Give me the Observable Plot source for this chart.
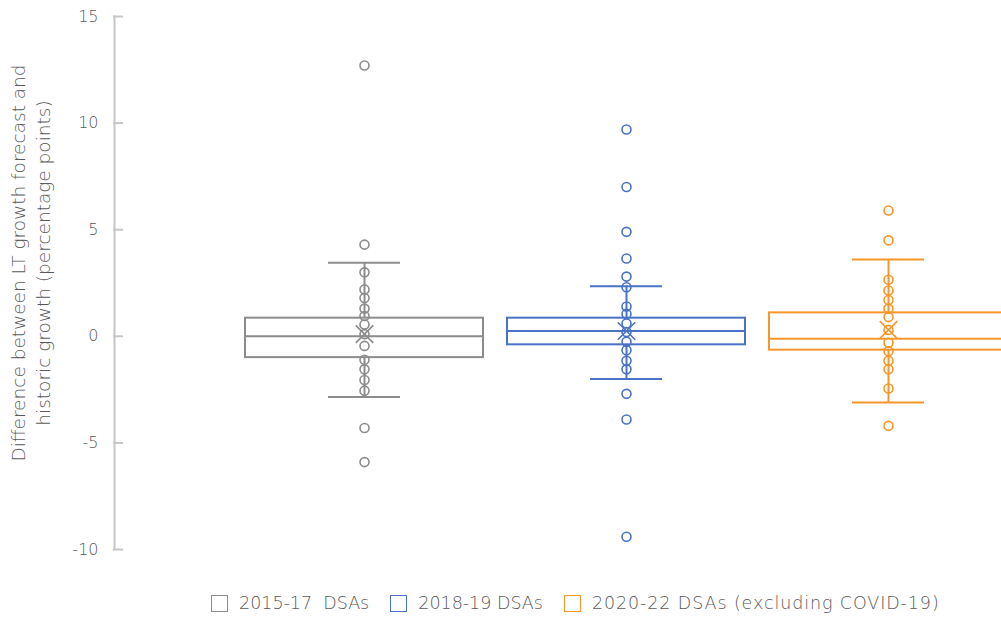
<!DOCTYPE html>
<html>
<head>
<meta charset="utf-8">
<script src="https://cdn.jsdelivr.net/npm/d3@7"></script>
<script src="https://cdn.jsdelivr.net/npm/@observablehq/plot@0.6"></script>
<style>
  html, body { margin: 0; padding: 0; background: #fff; }
  body { width: 1001px; height: 619px; overflow: hidden; font-family: "DejaVu Sans", sans-serif; font-weight: 200; color: #595959; }
  #chart { position: relative; }
  .legend { position: absolute; left: 211px; top: 593px; display: flex; align-items: center; font-size: 17.5px; white-space: pre; }
  .legend .item { display: flex; align-items: center; margin-right: 21px; }
  .legend .item:last-child { letter-spacing: 0.9px; }
  .legend .sw { width: 17px; height: 17px; box-sizing: border-box; border: 1.5px solid; margin-right: 11px; }
</style>
</head>
<body>
<div id="chart"></div>
<script>
// Series shown as three box-and-whisker groups
const series = ["2015-17  DSAs", "2018-19 DSAs", "2020-22 DSAs (excluding COVID-19)"];
const colors = ["#8c8c8c", "#4a72c4", "#f7962b"];

// Individual observations (percentage points)
const points2015 = [12.7, 4.3, 3.0, 2.2, 1.8, 1.3, 0.95, 0.55, 0.1, -0.45, -1.1, -1.55, -2.05, -2.55, -4.3, -5.9];
const points2018 = [9.7, 7.0, 4.9, 3.65, 2.8, 2.3, 1.4, 1.05, 0.6, 0.2, -0.25, -0.65, -1.15, -1.55, -2.7, -3.9, -9.4];
const points2020 = [5.9, 4.5, 2.65, 2.15, 1.7, 1.3, 0.9, 0.3, -0.3, -0.7, -1.15, -1.55, -2.45, -4.2];

// Box statistics per series
const q1 = [-1.0, -0.4, -0.65];
const median = [0.0, 0.25, -0.12];
const q3 = [0.85, 0.85, 1.1];
const whiskerLow = [-2.85, -2.0, -3.1];
const whiskerHigh = [3.45, 2.35, 3.6];
const mean = [0.1, 0.25, 0.3];

const yTicks = [-10, -5, 0, 5, 10, 15];
const yTitle = "Difference between LT growth forecast and\nhistoric growth (percentage points)";

const boxes = series.map((s, i) => ({
  series: s, q1: q1[i], median: median[i], q3: q3[i],
  lo: whiskerLow[i], hi: whiskerHigh[i], mean: mean[i]
}));
const points = [points2015, points2018, points2020].flatMap((arr, i) =>
  arr.map(v => ({series: series[i], value: v}))
);

const W = 1001, ML = 114;
const font = "'DejaVu Sans', sans-serif";

const chart = Plot.plot({
  width: W,
  height: 575,
  marginLeft: ML,
  marginRight: 0,
  marginTop: 16,
  marginBottom: 26,
  style: {fontFamily: font, fontWeight: 200, color: "#595959", background: "#fff"},
  x: {type: "band", domain: series, range: [232, 1019], padding: 0, axis: null},
  y: {domain: [-10, 15]},
  color: {type: "ordinal", domain: series, range: colors},
  marks: [
    // vertical axis line with short ticks pointing into the plot
    Plot.frame({anchor: "left", stroke: "#c6c6c6", strokeWidth: 2}),
    Plot.tickY(yTicks, {y: d => d, stroke: "#c6c6c6", strokeWidth: 2, insetLeft: -1, insetRight: W - ML - 9}),
    Plot.axisY({ticks: yTicks, tickSize: 0, tickPadding: 16, tickFormat: d => String(d), fontSize: 16, fill: "#595959", label: null}),
    Plot.text([yTitle], {
      frameAnchor: "left", textAnchor: "middle", dx: -85, dy: -20, rotate: -90,
      fontSize: 18.5, lineHeight: 1.35, fill: "#595959"
    }),
    // whiskers
    Plot.ruleX(boxes, {x: "series", y1: "q3", y2: "hi", stroke: "series", strokeWidth: 2}),
    Plot.ruleX(boxes, {x: "series", y1: "lo", y2: "q1", stroke: "series", strokeWidth: 2}),
    Plot.tickY(boxes, {x: "series", y: "hi", stroke: "series", strokeWidth: 2, insetLeft: 95, insetRight: 95}),
    Plot.tickY(boxes, {x: "series", y: "lo", stroke: "series", strokeWidth: 2, insetLeft: 95, insetRight: 95}),
    // box and median
    Plot.barY(boxes, {x: "series", y1: "q1", y2: "q3", fill: "none", stroke: "series", strokeWidth: 2, insetLeft: 12, insetRight: 12}),
    Plot.tickY(boxes, {x: "series", y: "median", stroke: "series", strokeWidth: 2, insetLeft: 12, insetRight: 12}),
    // observations
    Plot.dot(points, {x: "series", y: "value", r: 4.5, stroke: "series", fill: "none", strokeWidth: 1.6}),
    // mean marker
    Plot.dot(boxes, {x: "series", y: "mean", symbol: "times", r: 8, stroke: "series", strokeWidth: 1.6})
  ]
});

document.getElementById("chart").appendChild(chart);

// legend below the plot
const legend = document.createElement("div");
legend.className = "legend";
series.forEach((s, i) => {
  const item = document.createElement("div");
  item.className = "item";
  const sw = document.createElement("span");
  sw.className = "sw";
  sw.style.borderColor = colors[i];
  const label = document.createElement("span");
  label.textContent = s;
  item.appendChild(sw);
  item.appendChild(label);
  legend.appendChild(item);
});
document.getElementById("chart").appendChild(legend);
</script>
</body>
</html>
